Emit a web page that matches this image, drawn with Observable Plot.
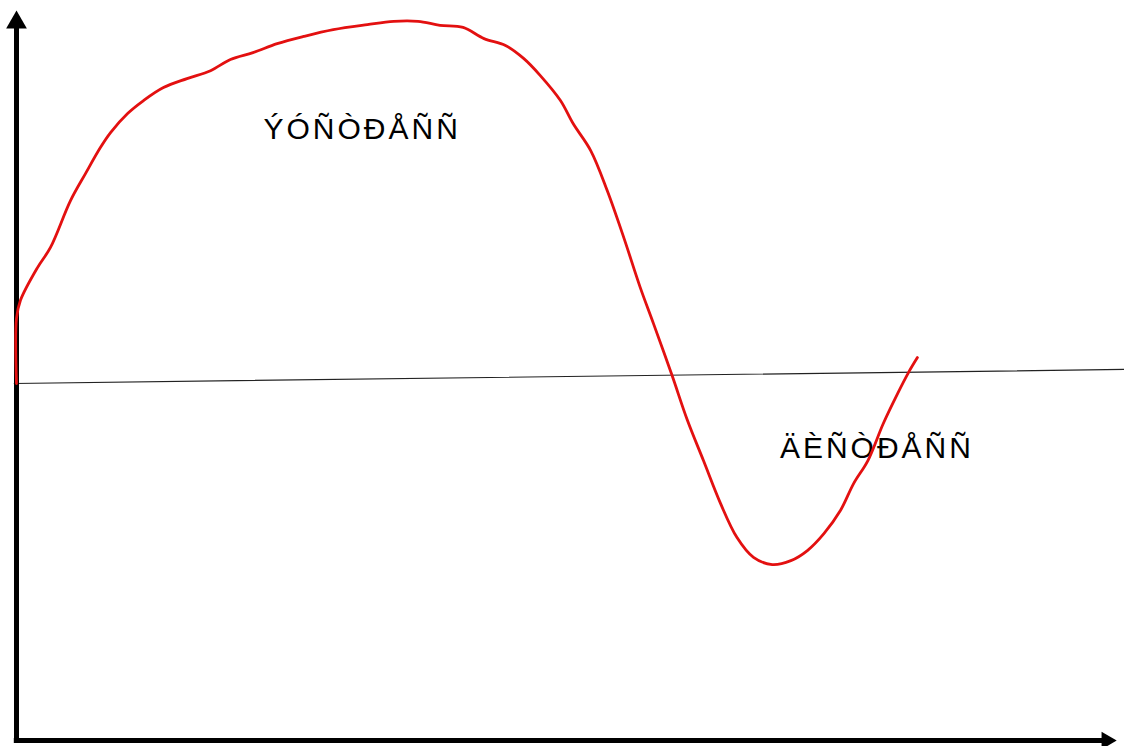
<!DOCTYPE html>
<html>
<head>
<meta charset="utf-8">
<script src="https://cdn.jsdelivr.net/npm/d3@7"></script>
<script src="https://cdn.jsdelivr.net/npm/@observablehq/plot@0.6"></script>
<style>
  html, body { margin: 0; padding: 0; background: #fff; }
  #chart svg { display: block; }
  #chart svg text { letter-spacing: 3px; }
</style>
</head>
<body>
<div id="chart"></div>
<script>
// Stress curve (time on x, stress level on y; 0 = neutral baseline)
const timeX   = [0, 0, 0.36, 1.91, 3.09, 4.91, 6.27, 7.64, 8.55, 10.1, 11.55, 13.36, 15.5, 17.64, 19.45, 21.5, 23.7, 26.1, 28.8, 31.9, 34.3, 36.5, 38.5, 40.6, 42.5, 44.45, 46.1, 47.6, 49.45, 50.6, 52.2, 53.7, 55.2, 56.7, 57.9, 59.6, 61.0, 62.45, 64.0, 65.5, 67.0, 68.7, 70.4, 71.9, 73.4, 74.9, 76.1, 77.4, 78.8, 80.1, 81.1, 81.9];
const stressY = [0, 1.81, 2.31, 3.22, 3.78, 5.08, 5.83, 6.56, 6.97, 7.5, 7.86, 8.22, 8.47, 8.69, 9.0, 9.19, 9.44, 9.64, 9.83, 9.97, 10.06, 10.06, 9.95, 9.89, 9.58, 9.39, 9.03, 8.56, 7.86, 7.22, 6.47, 5.36, 4.06, 2.67, 1.67, 0.22, -1.03, -2.14, -3.33, -4.28, -4.83, -5.03, -4.92, -4.64, -4.17, -3.53, -2.78, -2.14, -1.11, -0.28, 0.31, 0.72];

// Neutral baseline (slightly sloped in the original)
const baselineX = [-0.2, 100.7];
const baselineY = [0, 0.39];

// Axis extents
const axisXStart = -0.2, axisXEnd = 99.2;
const axisYStart = -9.92, axisYEnd = 9.9;
const arrowYTop = 10.03;   // centre of y-axis arrowhead
const arrowXRight = 99.1;  // centre of x-axis arrowhead

// Labels
const labelText = ["ÝÓÑÒÐÅÑÑ", "ÄÈÑÒÐÅÑÑ"];
const labelX = [22.45, 69.4];
const labelY = [6.8, -2.06];

const curve = timeX.map((x, i) => ({x, y: stressY[i]}));
const baseline = baselineX.map((x, i) => ({x, y: baselineY[i]}));
const labels = labelText.map((t, i) => ({t, x: labelX[i], y: labelY[i]}));

const chart = Plot.plot({
  width: 1124,
  height: 746,
  margin: 0,
  x: {domain: [0, 100], range: [16, 1116], axis: null},
  y: {domain: [-10, 10.5], range: [743, 5], axis: null},
  style: {fontFamily: "'Liberation Sans', Arial, sans-serif", background: "#fff"},
  marks: [
    Plot.line(baseline, {x: "x", y: "y", stroke: "#222", strokeWidth: 1.2}),
    Plot.text(labels, {x: "x", y: "y", text: "t", textAnchor: "start", lineAnchor: "bottom",
      fontSize: 30, fill: "#000", fontFamily: "'Liberation Sans', Arial, sans-serif"}),
    Plot.ruleX([0], {y1: axisYStart, y2: axisYEnd, stroke: "#000", strokeWidth: 5}),
    Plot.ruleY([axisYStart], {x1: axisXStart, x2: axisXEnd, stroke: "#000", strokeWidth: 5}),
    Plot.dot([{x: 0, y: arrowYTop}], {x: "x", y: "y", symbol: "triangle", r: 7.7, fill: "#000", stroke: null, rotate: 0}),
    Plot.dot([{x: arrowXRight, y: axisYStart}], {x: "x", y: "y", symbol: "triangle", r: 6.5, fill: "#000", stroke: null, rotate: 90}),
    Plot.line(curve, {x: "x", y: "y", stroke: "#e31010", strokeWidth: 2.8, curve: "catmull-rom"})
  ]
});
document.getElementById("chart").appendChild(chart);
</script>
</body>
</html>
